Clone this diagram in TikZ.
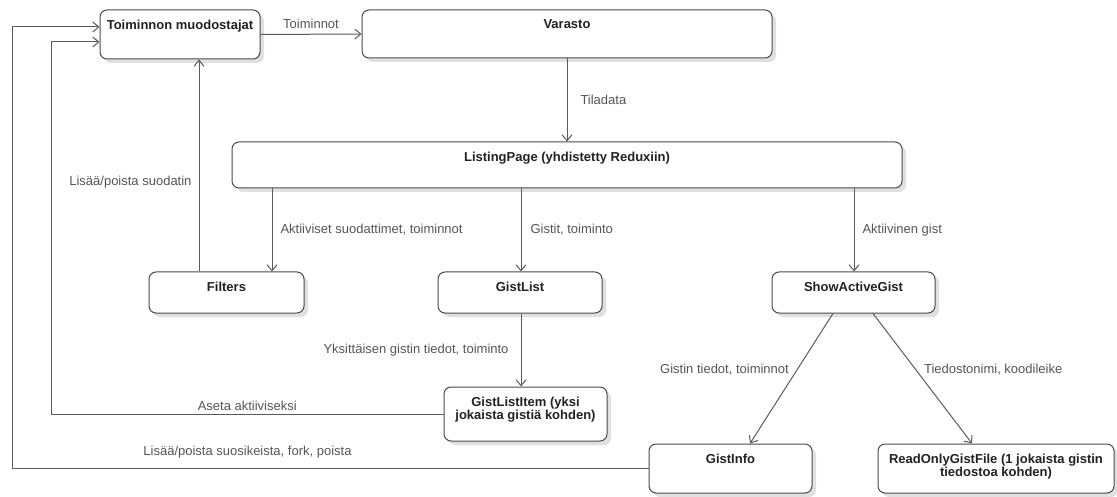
\documentclass[tikz,border=0pt]{standalone}
\usepackage{fontspec}
\setmainfont{Liberation Sans}
\usetikzlibrary{arrows.meta,shadows}
\definecolor{linegray}{HTML}{5A5A5A}
\definecolor{labelgray}{HTML}{555555}
\definecolor{boxline}{HTML}{4A4A4A}
\definecolor{titlegray}{HTML}{222222}

\begin{document}
\begin{tikzpicture}[x=1pt, y=-1pt, >={Straight Barb[length=6pt,width=10pt]},
    comp/.style={draw=boxline, line width=1pt, rounded corners=7pt, fill=white, inner sep=0pt,
      drop shadow={shadow xshift=4pt, shadow yshift=-4pt, fill=black!12, opacity=1}},
    flow/.style={->, draw=linegray, line width=1pt},
    lbl/.style={text=labelgray, font=\fontsize{13}{14}\selectfont, inner sep=2pt},
    title/.style={label={[anchor=north, yshift=-8pt, inner sep=2pt, align=center,
      font=\bfseries\fontsize{13}{13.5}\selectfont, text=titlegray]north:{#1}}}]
    \useasboundingbox (0,0) rectangle (1117,497);
    % Nodes
    \node[comp, minimum width=160, minimum height=49, title={Toiminnon muodostajat}] (tm) at (180,34.5) {};
    \node[comp, minimum width=410, minimum height=48, title={Varasto}] (var) at (567,34) {};
    \node[comp, minimum width=670, minimum height=46, title={ListingPage (yhdistetty Reduxiin)}] (lp) at (567,165) {};
    \node[comp, minimum width=155, minimum height=41, title={Filters}] (fil) at (226.5,292.5) {};
    \node[comp, minimum width=164, minimum height=41, title={GistList}] (gl) at (520,292.5) {};
    \node[comp, minimum width=163, minimum height=41, title={ShowActiveGist}] (sag) at (853.5,292.5) {};
    \node[comp, minimum width=163, minimum height=54, title={GistListItem (yksi\\jokaista gistiä kohden)}] (gli) at (525.5,414) {};
    \node[comp, minimum width=163, minimum height=49, title={GistInfo}] (gi) at (730.5,468.5) {};
    \node[comp, minimum width=236, minimum height=49, title={ReadOnlyGistFile (1 jokaista gistin\\tiedostoa kohden)}] (ro) at (996,468.5) {};
    % Lanes for the connectors
    \coordinate (fa) at (272,0);
    \coordinate (fb) at (199,0);
    \coordinate (ga) at (521,0);
    \coordinate (sa) at (854,0);
    \coordinate (la) at (51,0);
    \coordinate (lb) at (12,0);
    % Arrows connecting the nodes
    \draw[flow] (tm.east) -- node[lbl, above=3pt] {Toiminnot} (var.west);
    \draw[flow] (var.south) -- node[lbl, right=11pt] {Tiladata} (lp.north);
    \draw[flow] (fa |- lp.south) -- node[lbl, right=6pt] {Aktiiviset suodattimet, toiminnot} (fa |- fil.north);
    \draw[flow] (ga |- lp.south) -- node[lbl, right=7pt] {Gistit, toiminto} (ga |- gl.north);
    \draw[flow] (sa |- lp.south) -- node[lbl, right=6pt] {Aktiivinen gist} (sa |- sag.north);
    \draw[flow] (fb |- fil.north) -- node[lbl, left=5pt, pos=0.42] {Lisää/poista suodatin} (fb |- tm.south);
    \draw[flow] (ga |- gl.south) -- node[lbl, left=10pt] {Yksittäisen gistin tiedot, toiminto} (ga |- gli.north);
    \draw[flow] (gli.west) -- node[lbl, above=1pt] {Aseta aktiiviseksi} (gli.west -| la) |- ([yshift=-7.5pt]tm.west);
    \draw[flow] (gi.west) -- node[lbl, above=8pt, pos=0.63] {Lisää/poista suosikeista, fork, poista} (gi.west -| lb) |- ([yshift=7.5pt]tm.west);
    \draw[flow] ([xshift=-20.5pt]sag.south) -- node[lbl, left=6pt, pos=0.43] {Gistin tiedot, toiminnot} ([xshift=19.5pt]gi.north);
    \draw[flow] ([xshift=19.5pt]sag.south) -- node[lbl, right=6pt, pos=0.43] {Tiedostonimi, koodileike} ([xshift=-24pt]ro.north);
\end{tikzpicture}
\end{document}
